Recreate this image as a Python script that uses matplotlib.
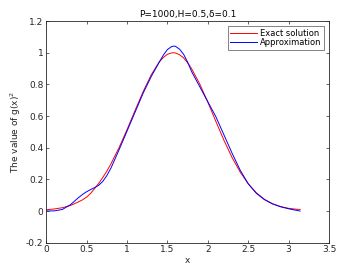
import matplotlib
matplotlib.use("Agg")
import matplotlib.pyplot as plt

# values
x_exact = [0.0, 0.1, 0.2, 0.3, 0.4, 0.45, 0.5, 0.55, 0.6, 0.65, 0.7, 0.75, 0.8,
           0.9, 1.0, 1.1, 1.2, 1.3, 1.4, 1.45, 1.5, 1.55, 1.5708, 1.6, 1.65,
           1.7, 1.75, 1.8, 1.9, 2.0, 2.1, 2.2, 2.3, 2.4, 2.5, 2.6, 2.7, 2.8,
           2.9, 3.0, 3.1, 3.1416]
y_exact = [0.008, 0.013, 0.021, 0.035, 0.058, 0.071, 0.088, 0.112, 0.143, 0.175,
           0.212, 0.252, 0.297, 0.399, 0.514, 0.636, 0.755, 0.861, 0.942, 0.970,
           0.990, 0.998, 1.0, 0.998, 0.987, 0.967, 0.936, 0.898, 0.802, 0.687,
           0.565, 0.446, 0.338, 0.246, 0.172, 0.115, 0.074, 0.046, 0.028, 0.017,
           0.011, 0.010]

x_approx = [0.0, 0.1, 0.2, 0.3, 0.4, 0.45, 0.5, 0.55, 0.6, 0.65, 0.7, 0.75, 0.8,
            0.9, 1.0, 1.1, 1.2, 1.3, 1.4, 1.45, 1.5, 1.55, 1.58, 1.6, 1.65,
            1.7, 1.75, 1.8, 1.9, 2.0, 2.1, 2.2, 2.3, 2.4, 2.5, 2.6, 2.7, 2.8,
            2.9, 3.0, 3.1, 3.1416]
y_approx = [0.0, 0.001, 0.010, 0.040, 0.085, 0.105, 0.122, 0.136, 0.148, 0.163,
            0.187, 0.224, 0.270, 0.385, 0.505, 0.625, 0.745, 0.850, 0.942, 0.985,
            1.020, 1.038, 1.042, 1.040, 1.022, 0.990, 0.940, 0.880, 0.785, 0.690,
            0.595, 0.480, 0.365, 0.258, 0.172, 0.112, 0.072, 0.045, 0.027, 0.014,
            0.004, 0.0]

x_ticks = [0, 0.5, 1, 1.5, 2, 2.5, 3, 3.5]
x_tick_labels = ["0", "0.5", "1", "1.5", "2", "2.5", "3", "3.5"]
y_ticks = [-0.2, 0, 0.2, 0.4, 0.6, 0.8, 1, 1.2]
y_tick_labels = ["-0.2", "0", "0.2", "0.4", "0.6", "0.8", "1", "1.2"]

axis_col = "#262626"
fs = 6.5

fig = plt.figure(figsize=(3.64, 2.73), dpi=100)
ax = fig.add_axes([0.127, 0.111, 0.777, 0.812])

ax.plot(x_exact, y_exact, color="red", linewidth=0.7, label="Exact solution")
ax.plot(x_approx, y_approx, color="blue", linewidth=0.7, label="Approximation")

ax.set_xlim(0, 3.5)
ax.set_ylim(-0.2, 1.2)
ax.set_xticks(x_ticks)
ax.set_xticklabels(x_tick_labels)
ax.set_yticks(y_ticks)
ax.set_yticklabels(y_tick_labels)
ax.tick_params(direction="in", length=2.5, width=0.5, labelsize=fs,
               colors=axis_col, top=True, right=True, pad=2)
for sp in ax.spines.values():
    sp.set_linewidth(0.6)
    sp.set_color(axis_col)

ax.set_xlabel("x", fontsize=fs, color=axis_col, labelpad=1)
ax.set_ylabel("The value of g(x)$^2$", fontsize=fs, color=axis_col, labelpad=2)
ax.set_title("P=1000,H=0.5,δ=0.1", fontsize=fs, color="black", pad=3)

leg = ax.legend(loc="upper right", fontsize=6, frameon=True, fancybox=False,
                borderpad=0.3, handlelength=3.2, handletextpad=0.4,
                labelspacing=0.1, borderaxespad=0.6)
leg.get_frame().set_edgecolor(axis_col)
leg.get_frame().set_linewidth(0.5)

fig.savefig("out.png", dpi=100)
